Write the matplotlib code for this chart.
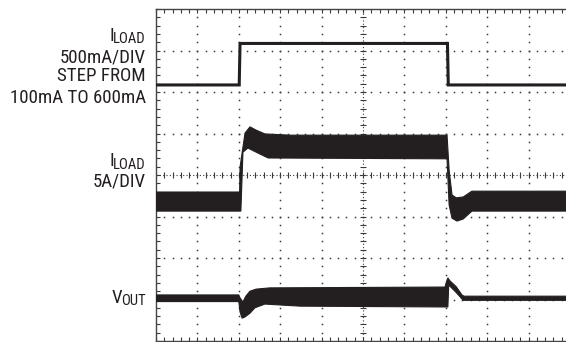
import matplotlib
matplotlib.use('Agg')
import matplotlib.pyplot as plt
import numpy as np
import logging
logging.getLogger('matplotlib.font_manager').setLevel(logging.ERROR)

INK = '#231f20'
GRID = '#3a3a3a'

# ---- screen: 10 x 8 divisions ----
n_xdiv = 10
n_ydiv = 8

# ---- Trace 1: I_LOAD step, 500mA/DIV (positions in divisions) ----
step_t = [0.0, 2.01, 2.03, 7.04, 7.06, 10.0]
step_v = [6.17, 6.17, 7.17, 7.17, 6.17, 6.17]

# ---- Trace 2: inductor current 5A/DIV, ripple band envelopes ----
il_up_t = [0.0, 2.02, 2.03, 2.15, 2.27, 2.42, 2.63, 3.24, 7.03, 7.08, 7.15, 7.25, 7.42, 7.63, 10.0]
il_up_v = [3.59, 3.59, 4.19, 5.01, 5.16, 5.08, 4.99, 4.96, 4.96, 4.12, 3.52, 3.45, 3.47, 3.61, 3.61]
il_lo_t = [0.0, 2.05, 2.10, 2.22, 2.46, 2.71, 7.03, 7.08, 7.15, 7.27, 7.42, 7.63, 10.0]
il_lo_v = [3.13, 3.13, 4.55, 4.65, 4.53, 4.41, 4.39, 3.28, 2.96, 2.89, 2.94, 3.13, 3.13]

# ---- Trace 3: V_OUT band envelopes ----
vo_up_t = [0.0, 2.00, 2.03, 2.10, 2.17, 2.27, 2.42, 2.75, 6.98, 7.03, 7.05, 7.10, 7.25, 7.39, 7.44, 10.0]
vo_up_v = [1.11, 1.11, 1.04, 0.94, 1.08, 1.20, 1.25, 1.28, 1.30, 1.47, 1.52, 1.45, 1.31, 1.11, 1.08, 1.08]
vo_lo_t = [0.0, 2.00, 2.03, 2.08, 2.15, 2.27, 2.39, 2.63, 3.48, 7.00, 7.05, 7.07, 7.10, 7.25, 7.42, 10.0]
vo_lo_v = [0.95, 0.95, 0.70, 0.55, 0.58, 0.67, 0.80, 0.89, 0.84, 0.82, 0.82, 1.33, 1.32, 1.17, 0.98, 0.98]

W, H = 566, 342
fig = plt.figure(figsize=(W / 100, H / 100), dpi=100)
ax = fig.add_axes([156 / W, 1 / H, 414 / W, 332 / H])
ax.set_xlim(0, n_xdiv)
ax.set_ylim(0, n_ydiv)

# grid dots
minor_x = np.arange(0, n_xdiv + 0.001, 0.2)
minor_y = np.arange(0, n_ydiv + 0.001, 0.2)
for gx in range(1, n_xdiv):
    if gx == 5:
        continue
    ax.plot([gx] * len(minor_y), minor_y, ls='none', marker='s', ms=1.1,
            mew=0, color=GRID, zorder=1)
for gy in range(1, n_ydiv):
    if gy == 4:
        continue
    ax.plot(minor_x, [gy] * len(minor_x), ls='none', marker='s', ms=1.1,
            mew=0, color=GRID, zorder=1)
# center crosshair with ticks
ax.plot([5, 5], [0, n_ydiv], ls=(0, (1, 2)), lw=0.8, color=GRID, zorder=1)
ax.plot([0, n_xdiv], [4, 4], ls=(0, (1, 2)), lw=0.8, color=GRID, zorder=1)
ax.plot([5] * len(minor_y), minor_y, ls='none', marker='_', ms=4, mew=0.8,
        color=GRID, zorder=1)
ax.plot(minor_x, [4] * len(minor_x), ls='none', marker='|', ms=4, mew=0.8,
        color=GRID, zorder=1)

# traces
ax.plot(step_t, step_v, color=INK, lw=2.2, solid_joinstyle='miter', zorder=3)
ax.fill(il_up_t + il_lo_t[::-1], il_up_v + il_lo_v[::-1], color=INK, lw=0.8,
        zorder=3)
ax.fill(vo_up_t + vo_lo_t[::-1], vo_up_v + vo_lo_v[::-1], color=INK, lw=0.8,
        zorder=3)

# frame and ticks
ax.set_xticks(range(n_xdiv + 1))
ax.set_yticks(range(n_ydiv + 1))
ax.set_xticks(minor_x, minor=True)
ax.set_yticks(minor_y, minor=True)
ax.tick_params(which='both', direction='in', length=3, width=0.8,
               color=GRID, top=True, right=True,
               labelleft=False, labelbottom=False)
for s in ax.spines.values():
    s.set_color('#444444')
    s.set_linewidth(1.0)

# labels
fams = ['Roboto Condensed', 'Archivo Narrow', 'Liberation Sans Narrow',
        'Liberation Sans', 'DejaVu Sans']
MAIN = 13.6
SUB = 10.6


def fx(px):
    return px / W


def fy(py):
    return 1 - py / H


fig.canvas.draw()
renderer = fig.canvas.get_renderer()


def sub_label(main, sub, xr, base_main, base_sub):
    t = fig.text(fx(xr), fy(base_sub), sub, ha='right', va='baseline',
                 fontsize=SUB, family=fams, color=INK)
    bb = t.get_window_extent(renderer)
    fig.text((bb.x0 + 1.0) / W, fy(base_main), main, ha='right',
             va='baseline', fontsize=MAIN, family=fams, color=INK)


def plain(txt, xr, base):
    fig.text(fx(xr), fy(base), txt, ha='right', va='baseline',
             fontsize=MAIN, family=fams, color=INK)


sub_label('I', 'LOAD', 146, 40.7, 42.7)
plain('500mA/DIV', 146, 62.7)
plain('STEP FROM', 146, 81)
plain('100mA TO 600mA', 146, 103.3)
sub_label('I', 'LOAD', 146, 165.7, 169.3)
plain('5A/DIV', 146, 186.7)
sub_label('V', 'OUT', 146, 303.3, 305)

fig.savefig('out.png', dpi=100)
